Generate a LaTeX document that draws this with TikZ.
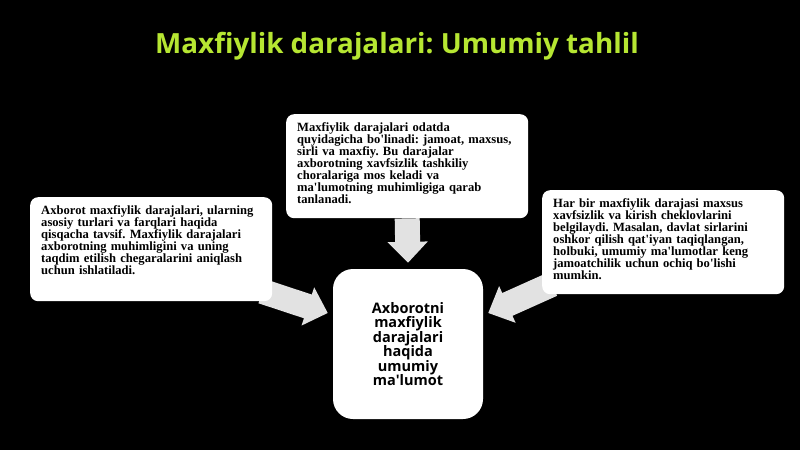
\documentclass[tikz,border=0pt]{standalone}
\usepackage{fontspec}
\setmainfont{Liberation Serif}[Ligatures=TeXOff]
\newfontfamily\opensans{Open Sans}
\usetikzlibrary{arrows.meta,backgrounds}
\definecolor{titlegreen}{RGB}{182,230,50}
\definecolor{arrowgray}{RGB}{226,226,226}
\frenchspacing

\begin{document}
\begin{tikzpicture}[x=1pt, y=-1pt,
    infobox/.style={rectangle, rounded corners=8pt, fill=white, anchor=north west,
      text width=220pt, inner xsep=11pt, inner ysep=8pt, text height=9pt, text depth=79pt,
      align=left, font=\bfseries\fontsize{12.6}{12}\selectfont},
    mainbox/.style={rectangle, rounded corners=20pt, fill=white, minimum size=150pt,
      align=center, font=\opensans\bfseries\fontsize{14.5}{14.5}\selectfont},
    bigarrow/.style={draw=arrowgray, line width=25pt, -{Triangle[width=39pt, length=21pt]}}]
    \useasboundingbox (0, 0) rectangle (800, 450);

    \node[text=titlegreen, font=\opensans\bfseries\fontsize{27.8}{30}\selectfont] (title) at (397, 46) {Maxfiylik darajalari: Umumiy tahlil};

    \node[infobox] (left) at (30, 197) {Axborot maxfiylik darajalari, ularning\\ asosiy turlari va farqlari haqida\\ qisqacha tavsif. Maxfiylik darajalari\\ axborotning muhimligini va uning\\ taqdim etilish chegaralarini aniqlash\\ uchun ishlatiladi.};
    \node[infobox] (top) at (286, 114) {Maxfiylik darajalari odatda\\ quyidagicha bo'linadi: jamoat, maxsus,\\ sirli va maxfiy. Bu darajalar\\ axborotning xavfsizlik tashkiliy\\ choralariga mos keladi va\\ ma'lumotning muhimligiga qarab\\ tanlanadi.};
    \node[infobox] (right) at (542, 190) {Har bir maxfiylik darajasi maxsus\\ xavfsizlik va kirish cheklovlarini\\ belgilaydi. Masalan, davlat sirlarini\\ oshkor qilish qat'iyan taqiqlangan,\\ holbuki, umumiy ma'lumotlar keng\\ jamoatchilik uchun ochiq bo'lishi\\ mumkin.};

    \node[mainbox] (center) at (408, 344) {Axborotni\\ maxfiylik\\ darajalari\\ haqida\\ umumiy\\ ma'lumot};

    % 矢印は背景に描く
    \begin{pgfonlayer}{background}
      \fill[black] (0, 0) rectangle (800, 450);
      \draw[bigarrow] (top.south) -- ([yshift=6pt]center.north);
      \draw[bigarrow] ([xshift=-10pt, yshift=10pt]left.south east) -- ([xshift=-5pt, yshift=31pt]center.west);
      \draw[bigarrow] ([xshift=10pt, yshift=10pt]right.south west) -- ([xshift=5pt, yshift=31pt]center.east);
    \end{pgfonlayer}

  \end{tikzpicture}
\end{document}
